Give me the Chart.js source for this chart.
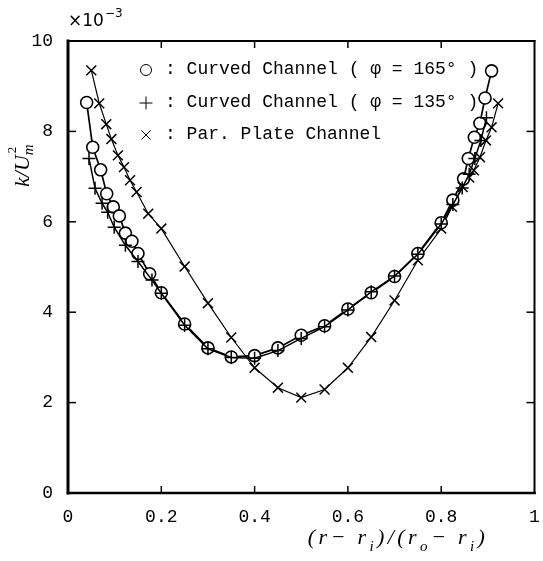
<!DOCTYPE html>
<html><head><meta charset="utf-8">
<script src="https://cdn.jsdelivr.net/npm/chart.js@4/dist/chart.umd.min.js"></script>
<style>html,body{margin:0;padding:0;background:#fff}</style>
</head><body>
<canvas id="c" width="543" height="561"></canvas>
<script>
const xTicks = [0, 0.2, 0.4, 0.6, 0.8, 1];
const yTicks = [0, 2, 4, 6, 8, 10];
const seriesLabels = ['Curved Channel ( \u03c6 = 165\u00b0 )', 'Curved Channel ( \u03c6 = 135\u00b0 )', 'Par. Plate Channel'];
const xTitle = ['(r\u2212 r', 'i', ')/(r', 'o', '\u2212 r', 'i', ')'];
const yTitle = ['k/U', 'm', '2'];
const yUnit = ['\u00d710', '\u22123'];

const c165X = [0.04, 0.053, 0.07, 0.083, 0.097, 0.11, 0.123, 0.137, 0.15, 0.175, 0.2, 0.25, 0.3, 0.35, 0.4, 0.45, 0.5, 0.55, 0.6, 0.65, 0.7, 0.75, 0.8, 0.825, 0.848, 0.858, 0.871, 0.883, 0.894, 0.908];
const c165Y = [8.64, 7.65, 7.15, 6.62, 6.33, 6.13, 5.75, 5.57, 5.30, 4.85, 4.43, 3.74, 3.21, 3.01, 3.04, 3.21, 3.49, 3.70, 4.07, 4.43, 4.79, 5.30, 5.98, 6.48, 6.95, 7.40, 7.87, 8.18, 8.74, 9.34];

const c135X = [0.045, 0.058, 0.073, 0.085, 0.099, 0.123, 0.15, 0.18, 0.2, 0.25, 0.3, 0.35, 0.4, 0.45, 0.5, 0.55, 0.6, 0.65, 0.7, 0.75, 0.8, 0.825, 0.845, 0.86, 0.872, 0.885, 0.897];
const c135Y = [7.40, 6.74, 6.41, 6.21, 5.88, 5.48, 5.12, 4.71, 4.42, 3.71, 3.19, 3.00, 2.98, 3.15, 3.42, 3.68, 4.05, 4.45, 4.80, 5.28, 5.95, 6.38, 6.75, 7.05, 7.40, 7.80, 8.30];

const parX = [0.05, 0.067, 0.082, 0.093, 0.107, 0.12, 0.133, 0.147, 0.172, 0.2, 0.25, 0.3, 0.35, 0.4, 0.45, 0.5, 0.55, 0.6, 0.65, 0.7, 0.75, 0.8, 0.823, 0.846, 0.86, 0.87, 0.883, 0.896, 0.908, 0.922];
const parY = [9.35, 8.62, 8.16, 7.83, 7.47, 7.21, 6.92, 6.66, 6.18, 5.85, 5.01, 4.20, 3.44, 2.77, 2.33, 2.11, 2.29, 2.77, 3.45, 4.26, 5.15, 5.85, 6.33, 6.77, 6.98, 7.14, 7.43, 7.80, 8.09, 8.62];

const pts = (xs, ys) => xs.map((x, i) => ({x: x, y: ys[i]}));
const MONO = '"Liberation Mono", "DejaVu Sans Mono", monospace';
const SERIF = '"Liberation Serif", "DejaVu Serif", serif';

function spacedText(ctx, text, x, y, gap) {
  for (const ch of text) {
    ctx.fillText(ch, x, y);
    x += ctx.measureText(ch).width + gap;
  }
  return x;
}
function spacedWidth(ctx, text, gap) {
  let w = 0;
  for (const ch of text) w += ctx.measureText(ch).width + gap;
  return w;
}

const frame = {
  id: 'frame',
  afterDatasetsDraw(chart) {
    const ctx = chart.ctx, a = chart.chartArea;
    const xs = chart.scales.x, ys = chart.scales.y;
    ctx.save();
    ctx.strokeStyle = '#000';
    ctx.lineCap = 'square';
    ctx.lineWidth = 2; ctx.beginPath(); ctx.moveTo(a.left, a.top); ctx.lineTo(a.right, a.top); ctx.stroke();
    ctx.beginPath(); ctx.moveTo(a.right, a.top); ctx.lineTo(a.right, a.bottom); ctx.stroke();
    ctx.lineWidth = 2.6; ctx.beginPath(); ctx.moveTo(a.left, a.bottom); ctx.lineTo(a.right, a.bottom); ctx.stroke();
    ctx.lineWidth = 3; ctx.beginPath(); ctx.moveTo(a.left, a.top); ctx.lineTo(a.left, a.bottom); ctx.stroke();
    ctx.lineWidth = 1.5; ctx.lineCap = 'butt';
    xTicks.slice(1, -1).forEach(v => {
      const px = xs.getPixelForValue(v);
      ctx.beginPath(); ctx.moveTo(px, a.bottom); ctx.lineTo(px, a.bottom - 7); ctx.stroke();
      ctx.beginPath(); ctx.moveTo(px, a.top); ctx.lineTo(px, a.top + 7); ctx.stroke();
    });
    yTicks.slice(1, -1).forEach(v => {
      const py = ys.getPixelForValue(v);
      ctx.beginPath(); ctx.moveTo(a.left, py); ctx.lineTo(a.left + 8, py); ctx.stroke();
      ctx.beginPath(); ctx.moveTo(a.right, py); ctx.lineTo(a.right - 8, py); ctx.stroke();
    });
    ctx.restore();
  },
  afterDraw(chart) {
    const ctx = chart.ctx, a = chart.chartArea;
    ctx.save();
    const rows = [69, 102, 134];
    chart.data.datasets.forEach((ds, i) => {
      const y = rows[i];
      ctx.fillStyle = '#fff'; ctx.strokeStyle = '#000';
      Chart.helpers.drawPoint(ctx, {pointStyle: ds.pointStyle, radius: ds.legendRadius, borderWidth: 1.7, rotation: 0}, 146, y + 1);
      ctx.fillStyle = '#000';
      ctx.font = '18px ' + MONO;
      ctx.textBaseline = 'middle'; ctx.textAlign = 'left';
      ctx.fillText(': ' + ds.label, 165, y);
    });
    ctx.fillStyle = '#000';
    ctx.textBaseline = 'alphabetic';
    ctx.font = '17px "DejaVu Sans", sans-serif';
    ctx.fillText(yUnit[0], a.left, 26);
    const w0 = ctx.measureText(yUnit[0]).width;
    ctx.font = '12px "DejaVu Sans", sans-serif';
    ctx.fillText(yUnit[1], a.left + w0 + 1, 17);
    // y title
    ctx.save();
    ctx.translate(29, 187);
    ctx.rotate(-Math.PI / 2);
    ctx.font = 'italic 22px ' + SERIF;
    ctx.fillText(yTitle[0], 0, 0);
    const w = ctx.measureText(yTitle[0]).width;
    ctx.font = 'italic 15px ' + SERIF;
    ctx.fillText(yTitle[1], w, 4);
    ctx.font = '13px ' + SERIF;
    ctx.fillText(yTitle[2], w + 2, -13);
    ctx.restore();
    // x title
    const gap = 3.4;
    const parts = xTitle.map((t, i) => ({t: t, sub: i % 2 === 1}));
    let total = 0;
    parts.forEach(p => { ctx.font = (p.sub ? 'italic 15px ' : 'italic 22px ') + SERIF; p.w = spacedWidth(ctx, p.t, gap); total += p.w; });
    let x = 398 - total / 2;
    parts.forEach(p => {
      ctx.font = (p.sub ? 'italic 15px ' : 'italic 22px ') + SERIF;
      spacedText(ctx, p.t, x, p.sub ? 551 : 544, gap);
      x += p.w;
    });
    ctx.restore();
  }
};

new Chart(document.getElementById('c'), {
  type: 'line',
  data: {
    datasets: [
      {label: seriesLabels[0], data: pts(c165X, c165Y), pointStyle: 'circle', pointRadius: 6, legendRadius: 5.5,
       borderColor: '#000', borderWidth: 1.7, pointBackgroundColor: '#fff', pointBorderColor: '#000', pointBorderWidth: 1.6, order: 2},
      {label: seriesLabels[1], data: pts(c135X, c135Y), pointStyle: 'cross', pointRadius: 6.5, legendRadius: 6.5,
       borderColor: '#000', borderWidth: 1.5, pointBorderColor: '#000', pointBorderWidth: 1.5, order: 1},
      {label: seriesLabels[2], data: pts(parX, parY), pointStyle: 'crossRot', pointRadius: 7, legendRadius: 6.5,
       borderColor: '#000', borderWidth: 1.2, pointBorderColor: '#000', pointBorderWidth: 1.5, order: 3}
    ]
  },
  options: {
    responsive: false, animation: false, devicePixelRatio: 1,
    layout: {padding: {left: 0, right: 6, top: 41, bottom: 0}},
    plugins: {legend: {display: false}, tooltip: {enabled: false}},
    elements: {line: {tension: 0, fill: false}},
    scales: {
      x: {type: 'linear', min: 0, max: 1,
          afterBuildTicks: s => { s.ticks = xTicks.map(v => ({value: v})); },
          afterFit: s => { s.height = 68; s.paddingLeft = 0; s.paddingRight = 0; },
          grid: {display: false, drawTicks: false}, border: {display: false},
          ticks: {padding: 13, color: '#000', font: {family: MONO, size: 18}, maxRotation: 0,
                  callback: v => (v === 0 || v === 1) ? String(v) : v.toFixed(1)}},
      y: {type: 'linear', min: 0, max: 10,
          afterBuildTicks: s => { s.ticks = yTicks.map(v => ({value: v})); },
          afterFit: s => { s.width = 68; s.paddingTop = 0; s.paddingBottom = 0; },
          grid: {display: false, drawTicks: false}, border: {display: false},
          ticks: {padding: 15, color: '#000', font: {family: MONO, size: 18}, callback: v => String(v)}}
    }
  },
  plugins: [frame]
});
</script>
</body></html>
